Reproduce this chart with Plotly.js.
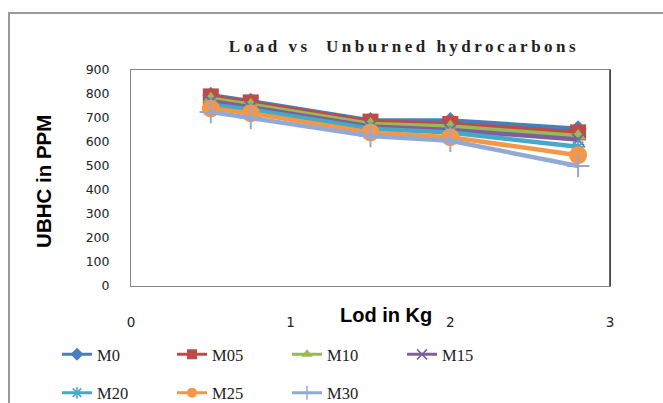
<!DOCTYPE html>
<html>
<head>
<meta charset="utf-8">
<script src="https://cdn.plot.ly/plotly-3.0.1.min.js"></script>
<style>
  html, body { margin: 0; padding: 0; background: #fff; }
  #wrap { position: relative; width: 663px; height: 403px; overflow: hidden; }
  #chart { position: absolute; left: 0; top: 0; width: 663px; height: 403px; }
  #frame { position: absolute; left: 8px; top: 12px; width: 700px; height: 450px;
           border-left: 2px solid #9a9a9a; border-top: 2px solid #9a9a9a; pointer-events: none; }
  .gtitle { letter-spacing: 3.5px; }
</style>
</head>
<body>
<div id="wrap">
  <div id="chart"></div>
  <div id="frame"></div>
</div>
<script>
// ---- data ----
const loadKg = [0.5, 0.75, 1.5, 2.0, 2.8];
const seriesNames = ["M0", "M05", "M10", "M15", "M20", "M25", "M30"];
const M0  = [795, 770, 690, 690, 655];
const M05 = [790, 765, 685, 675, 640];
const M10 = [780, 755, 675, 665, 625];
const M15 = [770, 745, 665, 650, 610];
const M20 = [755, 735, 655, 640, 580];
const M25 = [740, 720, 640, 620, 545];
const M30 = [725, 700, 625, 605, 500];
const xTickVals = [0, 1, 2, 3];
const yTickVals = [0, 100, 200, 300, 400, 500, 600, 700, 800, 900];

const seriesValues = [M0, M05, M10, M15, M20, M25, M30];
const colors = ["#4A7EBB", "#BE4B48", "#98B954", "#7D60A0", "#46AAC5", "#F79646", "#93A9D5"];
const symbols = ["diamond", "square", "triangle-up", "x-thin-open", "asterisk-open", "circle", "cross-thin-open"];
const sizes = [13, 16, 14, 12, 12, 18, 16];
const legendSizes = [10, 10, 10, 10, 10, 10, 10];

const isOpen = s => s.indexOf("open") >= 0;

// data traces (not in legend)
const traces = seriesNames.map((name, i) => ({
  type: "scatter",
  mode: "lines+markers",
  name: name,
  x: loadKg,
  y: seriesValues[i],
  showlegend: false,
  line: { color: colors[i], width: 4.5 },
  marker: {
    symbol: symbols[i],
    size: sizes[i],
    color: colors[i],
    line: { color: colors[i], width: isOpen(symbols[i]) ? 2 : 0 }
  }
}));

// legend-only entries with smaller symbols
seriesNames.forEach((name, i) => {
  traces.push({
    type: "scatter",
    mode: "lines+markers",
    name: name,
    x: [null], y: [null],
    legend: i < 4 ? "legend" : "legend2",
    line: { color: colors[i], width: 3 },
    marker: {
      symbol: symbols[i],
      size: legendSizes[i],
      color: colors[i],
      line: { color: colors[i], width: isOpen(symbols[i]) ? 1.5 : 0 }
    }
  });
});

const legendCommon = {
  orientation: "h",
  xref: "container", yref: "container",
  xanchor: "left", yanchor: "middle",
  entrywidth: 70, entrywidthmode: "pixels",
  itemsizing: "trace",
  font: { family: "Liberation Serif, serif", size: 16.5, color: "#222" },
  bgcolor: "rgba(0,0,0,0)",
  tracegroupgap: 0
};

const layout = {
  width: 663, height: 403,
  margin: { l: 131, r: 53, t: 70, b: 117 },
  paper_bgcolor: "#fff", plot_bgcolor: "#fff",
  showlegend: true,
  title: {
    text: "<b>Load vs  Unburned hydrocarbons</b>",
    font: { family: "Liberation Serif, serif", size: 17, color: "#222" },
    x: 0.57, xanchor: "center", xref: "paper",
    y: 0.885, yanchor: "middle", yref: "container"
  },
  xaxis: {
    range: [0, 3], tickvals: xTickVals, ticks: "",
    showgrid: false, zeroline: false,
    showline: true, mirror: true, linecolor: "#868686", linewidth: 1,
    ticklabelstandoff: 24,
    tickfont: { family: "DejaVu Sans, sans-serif", size: 13.5, color: "#222" }
  },
  yaxis: {
    range: [0, 900], tickvals: yTickVals, ticks: "",
    showgrid: false, zeroline: false,
    showline: true, mirror: true, linecolor: "#868686", linewidth: 1,
    ticklabelstandoff: 18,
    tickfont: { family: "DejaVu Sans, sans-serif", size: 12.5, color: "#222" }
  },
  shapes: [
    { type: "line", xref: "paper", yref: "paper", x0: 1, x1: 1, y0: 0, y1: 1,
      line: { color: "#333", width: 1.5 } }
  ],
  legend: Object.assign({}, legendCommon, { x: 0.086, y: 0.12 }),
  legend2: Object.assign({}, legendCommon, { x: 0.086, y: 0.025 }),
  annotations: [
    {
      text: "<b>Lod in Kg</b>",
      xref: "paper", yref: "paper", x: 0.532, y: -0.135,
      xanchor: "center", yanchor: "middle", showarrow: false,
      font: { family: "Liberation Sans, Arial, sans-serif", size: 20, color: "#000" }
    },
    {
      text: "<b>UBHC in PPM</b>",
      xref: "paper", yref: "paper", x: -0.184, y: 0.486,
      xanchor: "center", yanchor: "middle", showarrow: false, textangle: -90,
      font: { family: "Liberation Sans, Arial, sans-serif", size: 20.5, color: "#000" }
    }
  ]
};

Plotly.newPlot("chart", traces, layout, { displayModeBar: false, staticPlot: true });
</script>
</body>
</html>
